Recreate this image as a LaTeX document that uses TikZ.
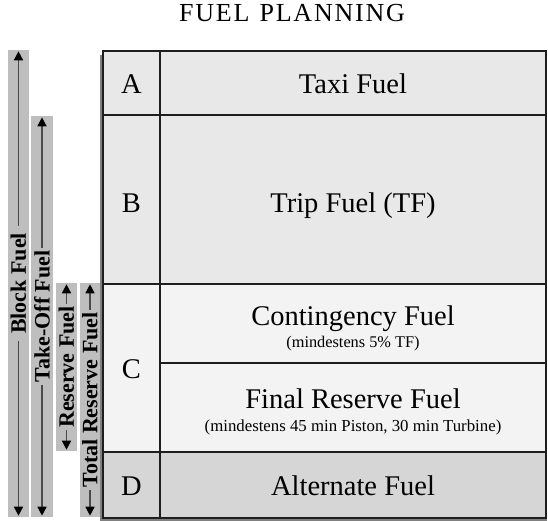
\documentclass[tikz,border=0pt]{standalone}
\usepackage{fontspec}
\setmainfont{Liberation Serif}
\usetikzlibrary{arrows.meta}
\definecolor{rowab}{HTML}{E8E8E8}
\definecolor{rowc}{HTML}{F3F3F3}
\definecolor{rowd}{HTML}{D6D6D6}
\definecolor{barfill}{HTML}{BEBEBE}
\definecolor{gridline}{HTML}{1E1E1E}
\definecolor{shadowc}{HTML}{808080}
\definecolor{arrowline}{HTML}{4A4A4A}
\begin{document}
\begin{tikzpicture}[x=1pt,y=-1pt,
  cell/.style={draw=gridline, line width=1.2pt},
  bigtext/.style={anchor=base, inner sep=0pt, font=\fontsize{28.5}{30}\selectfont},
  smalltext/.style={anchor=base, inner sep=0pt, font=\fontsize{16}{18}\selectfont},
  bar/.style={fill=barfill, draw=none, inner sep=0pt},
  fuelarrow/.style={draw=arrowline, line width=1.5pt, {Triangle[length=9pt,width=9pt,color=black]}-{Triangle[length=9pt,width=9pt,color=black]}},
  barlabel/.style={fill=barfill, rotate=90, inner ysep=0.5pt, inner xsep=3pt, font=\fontsize{22}{24}\selectfont\bfseries}
]
\useasboundingbox (0,0) rectangle (548,521);

% title
\node[anchor=base, inner sep=0pt, font=\fontsize{26}{28}\selectfont] (title) at (292,22)
  {F\kern1.8pt U\kern1.8pt E\kern1.8pt L\kern1.8pt\ \kern1.8pt P\kern1.8pt L\kern1.8pt A\kern1.8pt N\kern1.8pt N\kern1.8pt I\kern1.8pt N\kern1.8pt G};

% shadow
\fill[shadowc] (100,55) rectangle (547,521);

% table cells
\filldraw[cell, fill=rowab] (103,51) rectangle (160,115);
\filldraw[cell, fill=rowab] (160,51) rectangle (546,115);
\filldraw[cell, fill=rowab] (103,115) rectangle (160,284);
\filldraw[cell, fill=rowab] (160,115) rectangle (546,284);
\filldraw[cell, fill=rowc] (103,284) rectangle (160,452);
\filldraw[cell, fill=rowc] (160,284) rectangle (546,363);
\filldraw[cell, fill=rowc] (160,363) rectangle (546,452);
\filldraw[cell, fill=rowd] (103,452) rectangle (160,518);
\filldraw[cell, fill=rowd] (160,452) rectangle (546,518);

% table texts
\node[bigtext] (la) at (131.5,94) {A};
\node[bigtext] (taxi) at (353,94) {Taxi Fuel};
\node[bigtext] (lb) at (131.5,212) {B};
\node[bigtext] (trip) at (353,212) {Trip Fuel (TF)};
\node[bigtext] (lc) at (131.5,378) {C};
\node[bigtext] (cont) at (353,325) {Contingency Fuel};
\node[smalltext, font=\fontsize{16.3}{18}\selectfont] (contsub) at (353,347) {(mindestens 5\% TF)};
\node[bigtext] (final) at (353,408) {Final Reserve Fuel};
\node[smalltext, font=\fontsize{16.8}{18}\selectfont] (finalsub) at (353,431) {(mindestens 45 min Piston, 30 min Turbine)};
\node[bigtext] (ld) at (131.5,495) {D};
\node[bigtext] (alt) at (353,495) {Alternate Fuel};

% left bars
\node[bar, minimum width=21pt, minimum height=467pt] (block) at (18.5,283.5) {};
\node[bar, minimum width=22pt, minimum height=401pt] (takeoff) at (42,316.5) {};
\node[bar, minimum width=21pt, minimum height=168pt] (reserve) at (66.5,367) {};
\node[bar, minimum width=20pt, minimum height=234pt] (totres) at (90,400) {};

\draw[fuelarrow] ([yshift=-1.5pt]block.north) -- ([yshift=1.5pt]block.south);
\draw[fuelarrow] ([yshift=-1.5pt]takeoff.north) -- ([yshift=1.5pt]takeoff.south);
\draw[fuelarrow] ([yshift=-1.5pt]reserve.north) -- ([yshift=1.5pt]reserve.south);
\draw[fuelarrow] ([yshift=-1.5pt]totres.north) -- ([yshift=1.5pt]totres.south);

\node[barlabel, inner xsep=7pt] (blockl) at (block) {Block Fuel};
\node[barlabel] (takeoffl) at (takeoff) {Take-Off Fuel};
\node[barlabel, inner xsep=2pt] (reservel) at (reserve) {Reserve Fuel};
\node[barlabel, inner xsep=2pt] (totresl) at (totres) {Total Reserve Fuel};
\end{tikzpicture}
\end{document}
